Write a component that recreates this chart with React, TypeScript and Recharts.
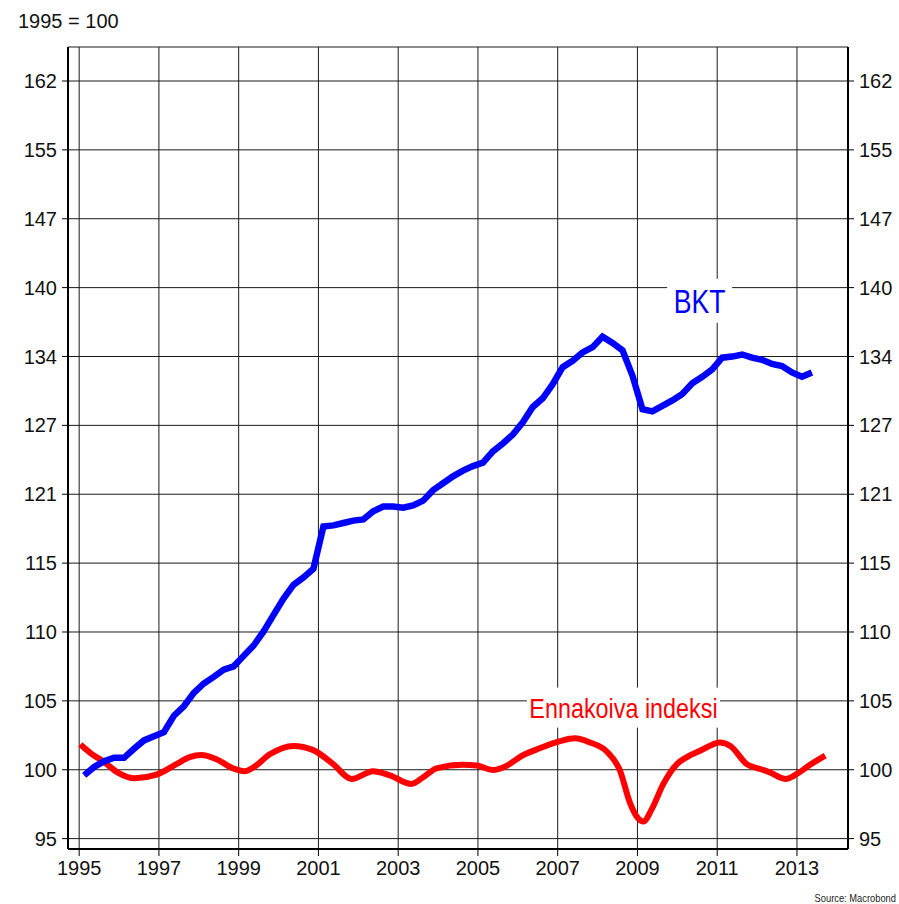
import { LineChart, Line, XAxis, YAxis, CartesianGrid, ReferenceDot } from "recharts";

const FONT = "'Liberation Sans', Arial, sans-serif";

const YEAR_TICKS = [1995, 1997, 1999, 2001, 2003, 2005, 2007, 2009, 2011, 2013];
// log axis, one gridline per 5 % step (labels are truncated)
const INDEX_TICKS = [95.238, 100, 105, 110.25, 115.763, 121.551, 127.628, 134.01, 140.71, 147.746, 155.133, 162.889];

// BKT, quarterly from 1995Q1 to 2013Q2
const BKT_START = 1995.125;
const bktValues = [
  99.6, 100.2, 100.6, 100.85, 100.85, 101.5, 102.1, 102.4,
  102.7, 103.9, 104.6, 105.6, 106.3, 106.8, 107.35, 107.6,
  108.4, 109.2, 110.3, 111.6, 112.9, 114.0, 114.6, 115.3,
  118.8, 118.9, 119.1, 119.3, 119.4, 120.1, 120.5, 120.5,
  120.4, 120.6, 121.0, 121.9, 122.5, 123.1, 123.6, 124.0,
  124.3, 125.3, 126.0, 126.8, 127.9, 129.3, 130.1, 131.4,
  133.0, 133.6, 134.4, 134.9, 135.9, 135.3, 134.6, 132.2,
  129.1, 128.9, 129.4, 129.9, 130.5, 131.5, 132.1, 132.8,
  133.9, 134.0, 134.2, 133.9, 133.7, 133.3, 133.1, 132.5,
  132.1, 132.5,
];

// Ennakoiva indeksi
const ennDates = [
  1995.03, 1995.3, 1995.6, 1995.97, 1996.39, 1996.94, 1997.44, 1997.77,
  1998.07, 1998.44, 1998.86, 1999.15, 1999.36, 1999.78, 2000.37, 2000.87,
  2001.37, 2001.83, 2002.37, 2002.79, 2003.33, 2003.62, 2003.96, 2004.62,
  2004.97, 2005.38, 2005.64, 2006.14, 2006.56, 2007.06, 2007.43, 2007.81,
  2008.23, 2008.56, 2008.81, 2009.02, 2009.15, 2009.36, 2009.65, 2009.99,
  2010.24, 2010.57, 2011.07, 2011.33, 2011.74, 2012.08, 2012.29, 2012.71,
  2013.0, 2013.33, 2013.71,
];
const ennValues = [
  101.8, 101.15, 100.6, 99.8, 99.4, 99.65, 100.4, 100.9,
  101.05, 100.75, 100.1, 99.9, 100.15, 101.1, 101.7, 101.4,
  100.4, 99.35, 99.9, 99.6, 99.0, 99.45, 100.1, 100.35,
  100.3, 99.98, 100.17, 101.05, 101.55, 102.05, 102.25, 101.95,
  101.3, 99.95, 97.7, 96.6, 96.4, 97.25, 99.0, 100.4,
  100.9, 101.35, 101.95, 101.7, 100.4, 100.05, 99.85, 99.35,
  99.7, 100.35, 101.0,
];

const bktData = bktValues.map((v, i) => ({ t: BKT_START + i * 0.25, v }));
const ennData = ennDates.map((t, i) => ({ t, v: ennValues[i] }));

const X_DOMAIN = [1994.72, 2014.28];
const Y_DOMAIN = [94.54, 166.86];

// series label on a white box, condensed to look like the original narrow face
function Tag({ cx, cy, text, color, w, h, size }: any) {
  if (cx == null || cy == null) return null;
  return (
    <g>
      <rect x={cx - w / 2} y={cy - h / 2} width={w} height={h} fill="#fff" />
      <text
        transform={`translate(${cx},${cy}) scale(0.82,1)`}
        x={0}
        y={0}
        dy="0.36em"
        textAnchor="middle"
        fill={color}
        fontSize={size}
        fontFamily={FONT}
      >
        {text}
      </text>
    </g>
  );
}

export default function App() {
  const tickStyle = { fontSize: 20, fill: "#111", fontFamily: FONT };
  return (
    <div style={{ position: "absolute", left: 0, top: 0, width: 899, height: 904, background: "#fff" }}>
      <LineChart width={899} height={904} margin={{ top: 47, right: 0, bottom: 0, left: 0 }}>
        <CartesianGrid yAxisId="left" stroke="#1a1a1a" strokeWidth={1} />
        <XAxis
          dataKey="t"
          type="number"
          domain={X_DOMAIN}
          ticks={YEAR_TICKS}
          interval={0}
          allowDataOverflow
          height={55}
          tickSize={7}
          tickMargin={5}
          axisLine={{ stroke: "#000", strokeWidth: 2 }}
          tickLine={{ stroke: "#000" }}
          tick={tickStyle}
        />
        <XAxis
          xAxisId="top"
          orientation="top"
          type="number"
          domain={X_DOMAIN}
          allowDataOverflow
          height={0}
          tick={false}
          tickLine={false}
          axisLine={{ stroke: "#000", strokeWidth: 2 }}
        />
        <YAxis
          yAxisId="left"
          type="number"
          scale="log"
          domain={Y_DOMAIN}
          ticks={INDEX_TICKS}
          interval={0}
          allowDataOverflow
          width={68}
          tickSize={6}
          tickMargin={5}
          tickFormatter={(v: number) => String(Math.floor(v))}
          axisLine={{ stroke: "#000", strokeWidth: 2 }}
          tickLine={{ stroke: "#000" }}
          tick={tickStyle}
        />
        <YAxis
          yAxisId="right"
          orientation="right"
          type="number"
          scale="log"
          domain={Y_DOMAIN}
          ticks={INDEX_TICKS}
          interval={0}
          allowDataOverflow
          width={51}
          tickSize={6}
          tickMargin={5}
          tickFormatter={(v: number) => String(Math.floor(v))}
          axisLine={{ stroke: "#000", strokeWidth: 2 }}
          tickLine={{ stroke: "#000" }}
          tick={tickStyle}
        />
        <Line
          data={ennData}
          dataKey="v"
          yAxisId="left"
          type="monotone"
          stroke="#ff0000"
          strokeWidth={6}
          dot={false}
          activeDot={false}
          isAnimationActive={false}
        />
        <Line
          data={bktData}
          dataKey="v"
          yAxisId="left"
          type="linear"
          stroke="#0000ff"
          strokeWidth={6.5}
          dot={false}
          activeDot={false}
          isAnimationActive={false}
        />
        <ReferenceDot
          yAxisId="left"
          x={2010.56}
          y={139.4}
          shape={(p: any) => <Tag {...p} text="BKT" color="#0000ff" w={65} h={44} size={32.5} />}
        />
        <ReferenceDot
          yAxisId="left"
          x={2008.65}
          y={104.5}
          shape={(p: any) => <Tag {...p} text="Ennakoiva indeksi" color="#ff0000" w={193} h={40} size={28.5} />}
        />
      </LineChart>
      <svg width={899} height={904} style={{ position: "absolute", left: 0, top: 0, pointerEvents: "none" }}>
        <text x={18} y={28} fontSize={20} fill="#111" fontFamily={FONT}>
          1995 = 100
        </text>
        <text
          transform="translate(896,902) scale(0.85,1)"
          x={0}
          y={0}
          textAnchor="end"
          fontSize={11}
          fill="#222"
          fontFamily={FONT}
        >
          Source: Macrobond
        </text>
      </svg>
    </div>
  );
}
